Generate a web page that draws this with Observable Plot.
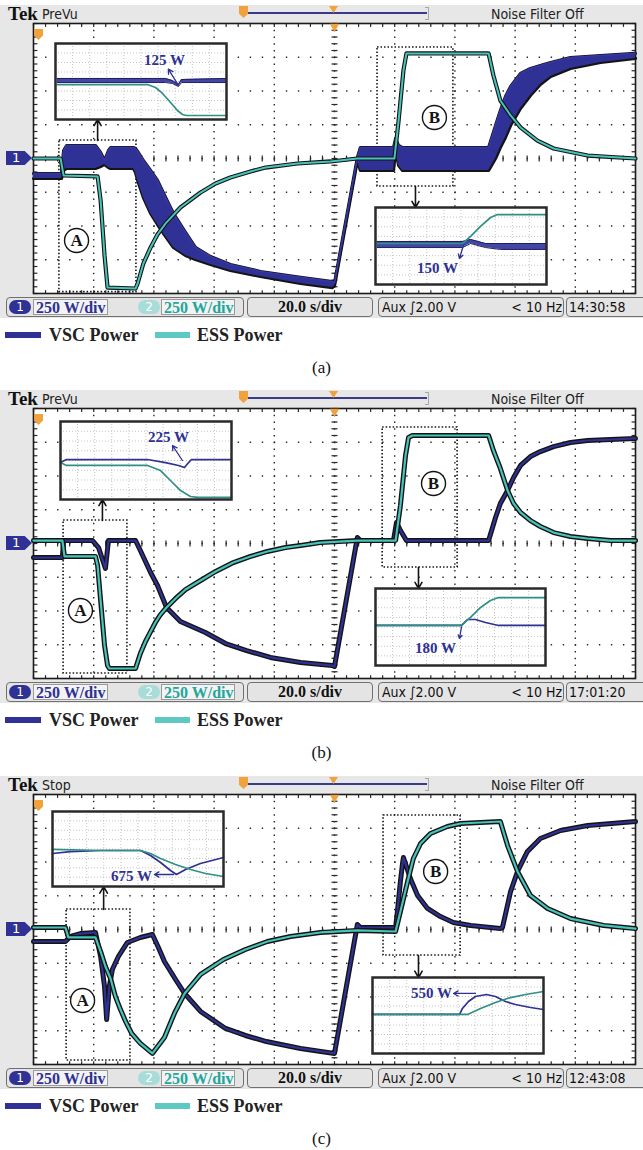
<!DOCTYPE html>
<html>
<head>
<meta charset="utf-8">
<script src="https://cdn.jsdelivr.net/npm/d3@7"></script>
<script src="https://cdn.jsdelivr.net/npm/@observablehq/plot@0.6"></script>
<style>
html,body{margin:0;padding:0;background:#fff;}
body{width:643px;height:1150px;overflow:hidden;position:relative;}
.panel{position:absolute;left:0;width:643px;height:385px;overflow:hidden;}
.a{position:absolute;white-space:nowrap;}
.narrow{font-family:"Liberation Sans Narrow","Arial Narrow","DejaVu Sans Condensed",sans-serif;font-stretch:condensed;}
</style>
</head>
<body>
<script>
const BLUE = "#2f3194", TEAL = "#46c4bc", ITEAL = "#2f9184", INK = "#141414", ORANGE = "#f0a23c";
const SERIF = '"Liberation Serif","Times New Roman",serif';

// ---------- texts ----------
const PANEL_LETTERS = ["(a)", "(b)", "(c)"];
const PANEL_MODES = ["PreVu", "PreVu", "Stop"];
const PANEL_CLOCKS = ["14:30:58", "17:01:20", "12:43:08"];
const PANEL_TOPS = [0, 385, 771];
const CH_SCALE = "250 W/div", TIME_SCALE = "20.0 s/div";
const TRIG_SRC = "Aux", TRIG_LEVEL = "\u222B2.00 V", TRIG_FREQ = "< 10 Hz", FILTER = "Noise Filter Off";
const SERIES_NAMES = ["VSC Power", "ESS Power"];
const ZOOM_NAMES = ["A", "B"];
const INSET_LABELS = [["125 W", "150 W"], ["225 W", "180 W"], ["675 W", "550 W"]];

// ---------- grid (time s, power W) ----------
const GRID_T = [20, 40, 60, 80, 100, 120, 140, 160, 180];
const GRID_P = [-750, -500, -250, 0, 250, 500, 750];
const MINOR_T = d3.range(0, 200.01, 4);
const MINOR_P = d3.range(-1000, 1000.01, 50);
const INSET_COLS = [1, 2, 3, 4, 5, 6, 7, 8, 9];
const INSET_ROWS = [1, 2, 3, 4, 5, 6, 7];

// ---------- panel (a): VSC ripple band, ESS ----------
const A_VSC_T  = [0,9.3,10.0,11.0,20.6,22.3,23.6,24.9,25.6,33.2,33.9,34.6,36.5,38.9,41.2,43.9,46.5,50.5,53.8,58.8,65.4,75.4,88.7,99.3,100.0,107.6,108.6,119.6,120.3,121.3,122.6,151.2,153.5,155.1,156.8,158.5,161.8,165.1,168.4,171.8,178.4,188.4,200];
const A_VSC_HI = [-111,-111,59,96,96,44,-15,59,81,81,74,52,-15,-89,-163,-289,-407,-548,-659,-726,-785,-837,-881,-911,-922,7,81,81,148,96,81,81,244,356,459,533,630,667,689,711,748,763,778];
const A_VSC_LO = [-148,-148,-89,-74,-74,-59,-44,-67,-74,-74,-104,-163,-289,-407,-489,-578,-659,-718,-748,-785,-830,-874,-926,-956,-944,-15,-89,-89,59,-52,-89,-89,0,81,156,244,370,467,548,607,667,711,741];
const A_ESS_T = [0,9.0,10.0,21.3,22.3,23.6,24.6,33.9,34.6,36.5,38.9,41.2,43.9,48.8,55.5,60.5,65.4,72.1,77.1,87.7,98.7,107.6,119.9,121.3,122.9,123.9,151.2,152.8,155.1,158.5,161.8,167.4,172.8,184.1,200];
const A_ESS_P = [0,0,-126,-133,-311,-718,-956,-963,-926,-778,-659,-563,-481,-363,-252,-185,-141,-96,-67,-37,-22,0,0,281,652,778,778,615,430,319,230,133,74,22,0];

// ---------- panel (b) ----------
const B_VSC_T = [0,9.6,10.0,19.6,21.6,23.9,24.9,33.9,35.5,38.9,41.2,44.2,48.8,57.1,63.8,70.8,78.7,88.7,99.3,100.0,107.6,108.6,119.6,120.6,121.9,123.9,151.2,153.5,155.1,157.5,159.5,161.8,165.1,168.4,172.8,178.4,184.1,191.7,200];
const B_VSC_P = [-104,-104,22,22,-30,-185,22,22,-52,-215,-311,-474,-578,-659,-741,-793,-844,-881,-904,-911,44,22,22,156,96,22,22,193,296,393,489,578,644,681,718,748,763,770,778];
const B_ESS_T = [0,9.6,10.3,20.6,21.3,22.3,23.6,24.6,25.2,33.9,35.5,37.2,38.9,40.5,42.2,44.2,47.2,50.5,55.5,60.5,66.4,72.1,77.7,83.7,88.7,95.3,107.6,120.3,121.9,123.6,124.6,125.9,151.2,152.8,155.1,157.5,159.5,161.8,165.1,168.4,172.8,178.4,184.1,191.7,200];
const B_ESS_P = [22,22,-96,-96,-163,-422,-755,-904,-926,-926,-815,-726,-652,-585,-526,-474,-407,-341,-274,-207,-141,-96,-59,-30,-15,7,22,22,281,652,785,800,800,689,556,393,296,230,170,126,81,52,37,22,22];

// ---------- panel (c) ----------
const C_VSC_T = [0,10.6,12.3,15.6,20.6,22.3,23.6,24.3,25.2,26.2,28.2,31.2,35.5,39.5,41.5,43.5,47.2,50.2,55.5,63.8,70.4,77.4,88.7,100.0,107.6,108.6,120.3,120.9,121.9,122.6,122.9,123.9,125.2,127.6,130.9,135.2,139.5,145.2,155.1,155.8,158.5,160.8,164.1,168.4,175.1,184.1,200];
const C_VSC_P = [-89,-89,-52,-30,-22,-200,-422,-667,-422,-296,-200,-96,-59,-37,-133,-237,-370,-474,-607,-733,-785,-830,-881,-918,37,15,15,133,356,489,533,467,378,252,156,96,52,30,7,15,281,430,578,674,733,770,800];
const C_ESS_T = [0,10.6,11.6,20.6,22.3,23.9,25.6,27.2,28.9,30.6,32.6,35.5,39.5,43.5,46.8,50.2,55.5,63.1,70.4,77.7,85.4,95.3,107.6,120.3,121.9,124.3,126.2,128.6,131.9,137.5,141.9,155.1,157.5,160.8,165.1,170.8,178.4,189.4,200];
const C_ESS_P = [15,15,-59,-59,-163,-274,-363,-496,-593,-681,-770,-844,-918,-800,-622,-474,-333,-222,-148,-89,-52,-22,-7,-15,133,356,526,637,711,763,785,800,622,430,252,156,81,30,7];

// ---------- zoom windows A / B (time s, power W) ----------
const ZOOM_A_T = [[8.6, 34.2], [10, 31.2], [11, 32.2]];
const ZOOM_A_P = [[133, -990], [170, -963], [148, -970]];
const ZOOM_B_T = [[114.3, 139.5], [116, 140.9], [116.3, 141.9]];
const ZOOM_B_P = [[822, -207], [859, -178], [844, -193]];
const ZOOM_A_ARROW = [[21.3, 133, 289], [22.9, 170, 326], [23.3, 148, 318]];
const ZOOM_B_ARROW = [[126.9, -207, -363], [127.9, -178, -333], [127.9, -193, -356]];
const ZOOM_A_TAG = [[14.3, -607], [15.6, -496], [16.3, -526]];
const ZOOM_B_TAG = [[133.2, 304], [132.9, 444], [133.6, 430]];

// ---------- insets (divisions 0..10 x 0..8) ----------
const INSET_POS = [
  [[55, 43, 171, 76], [375, 207, 171, 77]],
  [[60, 36, 171, 78], [375, 203, 170, 77]],
  [[52, 40, 171, 75], [372, 206, 171, 76]]
];
// (a) inset A
const IA1_VSC_T = [0.1,6.43,6.84,7.19,7.37,10], IA1_VSC_HI = [4.32,4.32,4.1,3.68,4.21,4.32], IA1_VSC_LO = [3.89,3.89,3.79,3.47,3.89,3.89];
const IA1_ESS_T = [0.1,5.38,5.85,6.26,6.73,7.13,7.43,7.66,10], IA1_ESS_P = [3.68,3.68,3.37,2.74,1.79,0.95,0.53,0.42,0.42];
// (a) inset B
const IA2_VSC_T = [0.1,5.09,5.56,6.43,7.31,10], IA2_VSC_HI = [4.47,4.47,4.68,4.26,4.26,4.26], IA2_VSC_LO = [3.84,3.84,4.26,3.84,3.64,3.64];
const IA2_ESS_T = [0.1,5.09,5.56,6.14,6.73,7.13,10], IA2_ESS_P = [4.26,4.26,4.99,6.03,6.96,7.27,7.27];
// (b) inset A
const IB1_VSC_T = [0,0.35,5.09,6.14,6.9,7.25,7.49,7.66,10], IB1_VSC_P = [3.79,4.10,4.10,3.79,3.49,3.28,3.79,4.10,4.10];
const IB1_ESS_T = [0,0.35,5.09,5.85,6.43,7.02,7.6,8.01,10], IB1_ESS_P = [3.79,3.49,3.49,2.97,1.95,0.92,0.31,0.21,0.21];
// (b) inset B
const IB2_VSC_T = [0,5.06,5.41,5.88,6.47,7.24,10], IB2_VSC_P = [4.16,4.16,4.78,4.78,4.47,4.16,4.16];
const IB2_ESS_T = [0,5.06,5.59,6.18,6.76,7.24,10], IB2_ESS_P = [4.16,4.16,4.99,6.03,6.75,7.06,7.06];
// (c) inset A
const IC1_VSC_T = [0,1.05,2.81,5.15,5.73,6.32,6.9,7.25,7.78,8.65,10], IC1_VSC_P = [3.52,3.73,3.84,3.84,3.31,2.56,1.71,1.28,1.81,2.45,3.09];
const IC1_ESS_T = [0,2.81,5.15,5.73,6.32,7.19,8.07,8.95,10], IC1_ESS_P = [3.95,3.84,3.84,3.52,2.99,2.35,1.81,1.39,1.07];
// (c) inset B
const IC2_VSC_T = [0,5.09,5.26,5.61,6.02,6.67,7.19,7.78,8.36,9.24,10], IC2_VSC_P = [4.11,4.11,4.74,5.47,6.0,6.21,6.0,5.47,5.16,4.84,4.63];
const IC2_ESS_T = [0,5.56,6.32,7.19,8.07,8.95,10], IC2_ESS_P = [4.11,4.11,4.74,5.37,5.89,6.21,6.53];
// inset label anchors and arrows [x, y] / [x1, y1, x2, y2]
const INSET_LABEL_XY = [[[6.37, 6.21], [3.63, 1.66]], [[6.32, 6.36], [3.53, 1.77]], [[4.62, 1.07], [3.45, 6.32]]];
const INSET_ARROW = [
  [[7.19, 3.6, 6.6, 5.3], [5.15, 4.1, 4.91, 2.7]],
  [[7.13, 4.0, 6.55, 5.54], [5.06, 4.0, 4.94, 2.81]],
  [[7.08, 1.28, 5.96, 1.28], [6.02, 6.32, 4.74, 6.32]]
];

// ---------- helpers ----------
const zip = (t, p) => t.map((v, i) => ({t: v, p: p[i]}));
const zipBand = (t, hi, lo) => t.map((v, i) => ({t: v, hi: hi[i], lo: lo[i]}));

const MAIN = [
  {vscBand: zipBand(A_VSC_T, A_VSC_HI, A_VSC_LO), ess: zip(A_ESS_T, A_ESS_P),
   insets: [{band: zipBand(IA1_VSC_T, IA1_VSC_HI, IA1_VSC_LO), ess: zip(IA1_ESS_T, IA1_ESS_P)},
            {band: zipBand(IA2_VSC_T, IA2_VSC_HI, IA2_VSC_LO), ess: zip(IA2_ESS_T, IA2_ESS_P)}]},
  {vsc: zip(B_VSC_T, B_VSC_P), ess: zip(B_ESS_T, B_ESS_P),
   insets: [{vsc: zip(IB1_VSC_T, IB1_VSC_P), ess: zip(IB1_ESS_T, IB1_ESS_P)},
            {vsc: zip(IB2_VSC_T, IB2_VSC_P), ess: zip(IB2_ESS_T, IB2_ESS_P)}]},
  {vsc: zip(C_VSC_T, C_VSC_P), ess: zip(C_ESS_T, C_ESS_P),
   insets: [{vsc: zip(IC1_VSC_T, IC1_VSC_P), ess: zip(IC1_ESS_T, IC1_ESS_P)},
            {vsc: zip(IC2_VSC_T, IC2_VSC_P), ess: zip(IC2_ESS_T, IC2_ESS_P)}]}
];

function lineMarks(data, color, outer, inner) {
  return [
    Plot.line(data, {x: "t", y: "p", stroke: INK, strokeWidth: outer, strokeLinejoin: "round", strokeLinecap: "round"}),
    Plot.line(data, {x: "t", y: "p", stroke: color, strokeWidth: inner, strokeLinejoin: "round"})
  ];
}
function bandMarks(band) {
  return [
    Plot.line(band, {x: "t", y: "hi", stroke: INK, strokeWidth: 3.2, strokeLinejoin: "round"}),
    Plot.line(band, {x: "t", y: "lo", stroke: INK, strokeWidth: 3.2, strokeLinejoin: "round"}),
    Plot.areaY(band, {x: "t", y1: "lo", y2: "hi", fill: BLUE}),
    Plot.line(band, {x: "t", y: "hi", stroke: "#3436a6", strokeWidth: 1.7, strokeLinejoin: "round"})
  ];
}

function mainPlot(k) {
  const cfg = MAIN[k];
  const boxes = [
    {x1: ZOOM_A_T[k][0], x2: ZOOM_A_T[k][1], y1: ZOOM_A_P[k][0], y2: ZOOM_A_P[k][1]},
    {x1: ZOOM_B_T[k][0], x2: ZOOM_B_T[k][1], y1: ZOOM_B_P[k][0], y2: ZOOM_B_P[k][1]}
  ];
  const arrows = [ZOOM_A_ARROW[k], ZOOM_B_ARROW[k]].map(([t, p1, p2]) => ({t, p1, p2}));
  const tags = [ZOOM_A_TAG[k], ZOOM_B_TAG[k]].map(([t, p], i) => ({t, p, s: ZOOM_NAMES[i]}));
  const g = {stroke: "#2a2a2a", strokeWidth: 1.2};
  const traces = cfg.vscBand
    ? [...bandMarks(cfg.vscBand), ...lineMarks(cfg.ess, TEAL, 4.2, 2)]
    : [...lineMarks(cfg.vsc, BLUE, 5, 2.2), ...lineMarks(cfg.ess, TEAL, 5, 2.2)];
  return Plot.plot({
    width: 643, height: 296, marginTop: 23, marginBottom: 3, marginLeft: 33, marginRight: 8,
    x: {domain: [0, 200], axis: null},
    y: {domain: [-1000, 1000], axis: null},
    style: {background: "transparent", overflow: "visible"},
    marks: [
      Plot.frame({fill: "white", stroke: "none"}),
      Plot.ruleX(GRID_T, {stroke: "#2a2a2a", strokeWidth: 1.4, strokeDasharray: "1.4,5.35"}),
      Plot.ruleY(GRID_P, {stroke: "#2a2a2a", strokeWidth: 1.4, strokeDasharray: "1.4,10.64"}),
      Plot.link(MINOR_P, {x1: 99, x2: 101, y1: d => d, y2: d => d, ...g}),
      Plot.link(MINOR_T, {x1: d => d, x2: d => d, y1: -22, y2: 22, ...g}),
      Plot.link(MINOR_T, {x1: d => d, x2: d => d, y1: 1000, y2: 975, ...g}),
      Plot.link(MINOR_T, {x1: d => d, x2: d => d, y1: -1000, y2: -975, ...g}),
      Plot.link(MINOR_P, {x1: 0, x2: 1.3, y1: d => d, y2: d => d, ...g}),
      Plot.link(MINOR_P, {x1: 200, x2: 198.7, y1: d => d, y2: d => d, ...g}),
      Plot.frame({stroke: "#1a1a1a", strokeWidth: 1.6}),
      Plot.rect(boxes, {x1: "x1", x2: "x2", y1: "y1", y2: "y2", fill: "none", stroke: INK, strokeWidth: 1.6, strokeDasharray: "1.5,2"}),
      Plot.arrow(arrows, {x1: "t", x2: "t", y1: "p1", y2: "p2", stroke: INK, strokeWidth: 1.6, headLength: 8}),
      Plot.dot(tags, {x: "t", y: "p", r: 12, fill: "white", stroke: INK, strokeWidth: 1.4}),
      Plot.text(tags, {x: "t", y: "p", text: "s", fontFamily: SERIF, fontWeight: "bold", fontSize: 17, fill: INK}),
      ...traces,
      Plot.dot([100], {x: d => d, y: 1000, symbol: "triangle", rotate: 180, fill: ORANGE, stroke: "none", r: 3.5, dy: 3})
    ]
  });
}

function insetPlot(k, j) {
  const d = MAIN[k].insets[j];
  const [l, t, w, h] = INSET_POS[k][j];
  const [lx, ly] = INSET_LABEL_XY[k][j];
  const [ax1, ay1, ax2, ay2] = INSET_ARROW[k][j];
  const marks = [
    Plot.ruleX(INSET_COLS, {stroke: "#b5b5b5", strokeWidth: 0.8, strokeDasharray: "1,2"}),
    Plot.ruleY(INSET_ROWS, {stroke: "#b5b5b5", strokeWidth: 0.8, strokeDasharray: "1,2"})
  ];
  if (d.band) {
    marks.push(Plot.areaY(d.band, {x: "t", y1: "lo", y2: "hi", fill: "#4446a3"}));
    marks.push(Plot.line(d.band, {x: "t", y: "hi", stroke: "#1e1f66", strokeWidth: 1}));
    marks.push(Plot.line(d.band, {x: "t", y: "lo", stroke: "#1e1f66", strokeWidth: 1}));
  } else {
    marks.push(Plot.line(d.vsc, {x: "t", y: "p", stroke: BLUE, strokeWidth: 1.7}));
  }
  marks.push(Plot.line(d.ess, {x: "t", y: "p", stroke: ITEAL, strokeWidth: 1.7}));
  marks.push(Plot.arrow([{x1: ax1, y1: ay1, x2: ax2, y2: ay2}], {x1: "x1", y1: "y1", x2: "x2", y2: "y2", stroke: BLUE, strokeWidth: 1.3, headLength: 6}));
  marks.push(Plot.text([{x: lx, y: ly, s: INSET_LABELS[k][j]}], {x: "x", y: "y", text: "s", fill: BLUE, fontSize: 15, fontWeight: "bold", fontFamily: SERIF}));
  marks.push(Plot.frame({stroke: "#2a2a2a", strokeWidth: 2.5}));
  const svg = Plot.plot({
    width: w, height: h, margin: 0,
    x: {domain: [0, 10], axis: null}, y: {domain: [0, 8], axis: null},
    style: {background: "white", overflow: "visible"},
    marks
  });
  return {svg, l, t};
}

function add(parent, css, text, cls) {
  const el = document.createElement("div");
  el.className = "a" + (cls ? " " + cls : "");
  el.style.cssText = css;
  if (text != null) el.textContent = text;
  parent.appendChild(el);
  return el;
}

PANEL_TOPS.forEach((top, k) => {
  const p = document.createElement("div");
  p.className = "panel";
  p.style.top = top + "px";
  document.body.appendChild(p);

  // scope background + header
  add(p, "left:0;top:5px;width:643px;height:313px;background:#e7e7e7;");
  add(p, `left:8px;top:4px;font:bold 19px ${SERIF};line-height:19px;color:#111;`, "Tek");
  add(p, "left:42px;top:7px;font-size:14px;line-height:14px;color:#222;", PANEL_MODES[k], "narrow");
  add(p, `left:247px;top:12px;width:180px;height:1.5px;background:#3a3a8a;`);
  add(p, "left:425px;top:7px;width:3px;height:11px;border:1px solid #a8a8a8;border-left:none;");
  add(p, `left:239px;top:6px;width:9px;height:12px;background:${ORANGE};clip-path:polygon(0 0,100% 0,100% 65%,50% 100%,0 65%);`);
  add(p, `left:329px;top:6px;width:9px;height:7px;background:${ORANGE};clip-path:polygon(0 0,100% 0,50% 100%);`);
  add(p, "left:491px;top:7px;font-size:14px;line-height:14px;color:#222;", FILTER, "narrow");

  // main chart
  const svg = mainPlot(k);
  svg.style.position = "absolute"; svg.style.left = "0px"; svg.style.top = "0px";
  p.appendChild(svg);

  // markers
  add(p, `left:34px;top:29px;width:9px;height:11px;background:${ORANGE};clip-path:polygon(0 0,100% 0,100% 60%,50% 100%,0 60%);`);
  add(p, `left:6px;top:151px;width:26px;height:14px;background:${BLUE};clip-path:polygon(0 0,72% 0,100% 50%,72% 100%,0 100%);color:#fff;font:13px "DejaVu Sans",sans-serif;line-height:14px;padding-left:6px;box-sizing:border-box;`, "1");

  // insets
  [0, 1].forEach(j => {
    const {svg: isvg, l, t} = insetPlot(k, j);
    const holder = add(p, `left:${l}px;top:${t}px;`);
    holder.appendChild(isvg);
  });

  // status bar
  const box = "top:297px;height:20px;box-sizing:border-box;border:1.5px solid #707070;border-radius:4px;background:#e4e4e4;";
  add(p, `left:6px;width:238px;${box}`);
  add(p, `left:247px;width:126px;${box}`);
  add(p, `left:378px;width:186px;${box}`);
  add(p, `left:566px;width:90px;${box}`);
  add(p, `left:9px;top:300px;width:22px;height:14px;border-radius:7px;background:${BLUE};color:#fff;font:12px "DejaVu Sans",sans-serif;text-align:center;line-height:14px;`, "1");
  add(p, `left:33px;top:299px;width:75px;height:16px;box-sizing:border-box;border:1px solid #9a9a9a;background:#f3f3f3;color:${BLUE};font:bold 16px ${SERIF};line-height:15px;padding-left:2px;`, CH_SCALE);
  add(p, `left:138px;top:300px;width:22px;height:14px;border-radius:7px;background:#a8dcd8;color:#fff;font:12px "DejaVu Sans",sans-serif;text-align:center;line-height:14px;`, "2");
  add(p, `left:161px;top:299px;width:74px;height:16px;box-sizing:border-box;border:1px solid #9a9a9a;background:#f3f3f3;color:#23a69b;font:bold 16px ${SERIF};line-height:15px;padding-left:2px;`, CH_SCALE);
  add(p, `left:247px;top:298px;width:126px;text-align:center;font:bold 16px ${SERIF};line-height:18px;color:#111;`, TIME_SCALE);
  add(p, "left:382px;top:300px;font-size:14px;line-height:14px;color:#111;", TRIG_SRC, "narrow");
  add(p, "left:409px;top:300px;font-size:14px;line-height:14px;color:#111;", TRIG_LEVEL, "narrow");
  add(p, "left:490px;top:300px;width:72px;text-align:right;font-size:14px;line-height:14px;color:#111;", TRIG_FREQ, "narrow");
  add(p, "left:569px;top:300px;font-size:14px;line-height:14px;color:#111;", PANEL_CLOCKS[k], "narrow");

  // legend + caption
  add(p, `left:5px;top:332px;width:36px;height:6px;background:${BLUE};`);
  add(p, `left:49px;top:325px;font:bold 18px ${SERIF};line-height:20px;color:#222;`, SERIES_NAMES[0]);
  add(p, `left:155px;top:332px;width:35px;height:6px;background:#5ec8c2;`);
  add(p, `left:197px;top:325px;font:bold 18px ${SERIF};line-height:20px;color:#222;`, SERIES_NAMES[1]);
  add(p, `left:0;top:358px;width:643px;text-align:center;font:17px ${SERIF};line-height:20px;color:#111;`, PANEL_LETTERS[k]);
});
</script>
</body>
</html>
